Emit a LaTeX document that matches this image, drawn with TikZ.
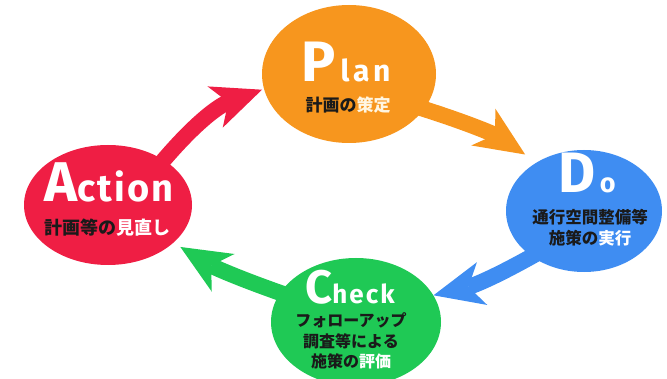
\documentclass[tikz,border=0pt]{standalone}
\usepackage{fontspec}
\setmainfont{Fira Sans}
\newfontfamily\jp{Noto Sans CJK JP}
\usetikzlibrary{arrows.meta,shapes.geometric}
\definecolor{cplan}{HTML}{F7961E}
\definecolor{cdo}{HTML}{3F8DF2}
\definecolor{ccheck}{HTML}{1FC955}
\definecolor{cact}{HTML}{EF1E44}
\definecolor{hl}{HTML}{FFF6E2}
\definecolor{dark}{HTML}{1A1A1A}
\tikzset{
  phase/.style={ellipse, inner sep=0pt, draw=none},
  arr/.style={line width=16pt, -{Stealth[length=50pt,width=44pt,inset=14pt,line width=0pt]}},
  title/.style={anchor=base, inner sep=0pt, text=white, font=\bfseries},
  jptxt/.style={inner sep=0pt, text=dark, font=\jp\bfseries, align=center}
}
\begin{document}
\begin{tikzpicture}[x=1pt,y=1pt]
\useasboundingbox (0,0) rectangle (667,378);
\begin{scope}
\clip (0,0) rectangle (667,378);
\node[phase, fill=cplan, minimum width=174pt, minimum height=138pt] (plan) at (349,304) {};
\node[phase, fill=cdo, minimum width=156pt, minimum height=122pt] (do) at (584,167) {};
\node[phase, fill=ccheck, minimum width=170pt, minimum height=128pt] (check) at (356,56) {};
\node[phase, fill=cact, minimum width=168pt, minimum height=120pt] (act) at (108,173) {};

\draw[arr, cact, shorten <=-10pt, shorten >=2pt] (act.39) to[bend left=15] (plan.190);
\draw[arr, cplan, shorten <=-10pt, shorten >=14pt] (plan.-25) to[bend left=8] (do.134);
\draw[arr, cdo, shorten <=-10pt] (do.221) to[bend left=8] (check.19);
\draw[arr, ccheck, shorten <=-10pt, shorten >=8pt] (check.159) to[bend left=6] (act.-30);
\end{scope}

\node[title] (plantitle) at (346,296) {\fontsize{57}{57}\selectfont P\fontsize{30}{30}\selectfont\addfontfeature{LetterSpace=12}\,lan};
\node[jptxt, font=\jp\bfseries\fontsize{17}{17}\selectfont] (plantext) at (348,273) {計画の\textcolor{hl}{策定}};

\node[title] (dotitle) at (587,185) {\fontsize{57}{57}\selectfont D\fontsize{27}{27}\selectfont\,o};
\node[jptxt, font=\jp\bfseries\fontsize{16.5}{21}\selectfont] (dotext) at (590,150) {通行空間整備等\\施策の\textcolor{white}{実行}};

\node[title] (checktitle) at (350,75) {\fontsize{47}{47}\selectfont C\fontsize{26}{26}\selectfont\addfontfeature{LetterSpace=8}heck};
\node[jptxt, font=\jp\bfseries\fontsize{16}{20.5}\selectfont] (checktext) at (351,37) {フォローアップ\\調査等による\\施策の\textcolor{white}{評価}};

\node[title] (acttitle) at (109,176) {\fontsize{56}{56}\selectfont A\fontsize{38}{38}\selectfont\addfontfeature{LetterSpace=6}ction};
\node[jptxt, font=\jp\bfseries\fontsize{18}{18}\selectfont] (acttext) at (108,150) {計画等の\textcolor{white}{見直し}};
\end{tikzpicture}
\end{document}
